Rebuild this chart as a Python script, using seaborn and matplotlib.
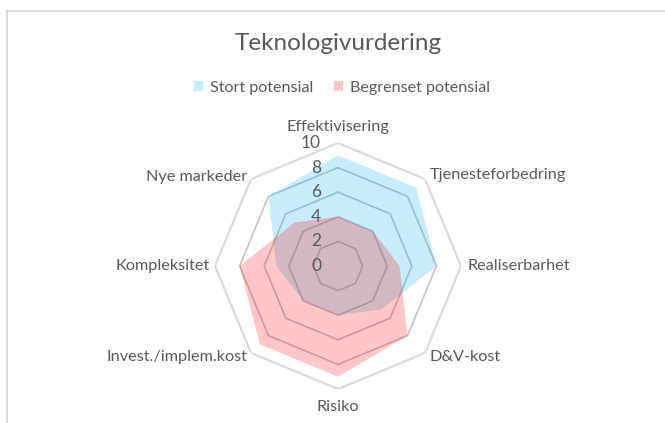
import numpy as np
import matplotlib
matplotlib.use("Agg")
import matplotlib.pyplot as plt
from matplotlib.lines import Line2D
import seaborn as sns

# data
categories = ["Effektivisering", "Tjenesteforbedring", "Realiserbarhet", "D&V-kost",
              "Risiko", "Invest./implem.kost", "Kompleksitet", "Nye markeder"]
stort = [9, 9, 8, 5, 4, 4, 5, 8]
begrenset = [4, 4, 5, 8, 9, 9, 8, 5]
r_ticks = [0, 2, 4, 6, 8, 10]

sns.set_theme(style="white")
plt.rcParams["font.family"] = ["Lato", "DejaVu Sans"]
txt = "#595959"

fig = plt.figure(figsize=(6.65, 4.23), dpi=100)
W, H = 665, 423
cx, cy, R = 338, 266, 123
ax = fig.add_axes([(cx - R) / W, (H - cy - R) / H, 2 * R / W, 2 * R / H], projection="polar")
ax.set_theta_zero_location("N")
ax.set_theta_direction(-1)
ax.set_ylim(0, 10)
ax.grid(False)
ax.set_xticks([])
ax.set_yticks([])
ax.spines["polar"].set_visible(False)
ax.patch.set_alpha(0)

n = len(categories)
theta = np.linspace(0, 2 * np.pi, n, endpoint=False)
theta_c = np.append(theta, theta[0])

# octagon gridlines
for t in r_ticks[1:]:
    outer = t == r_ticks[-1]
    ax.plot(theta_c, [t] * (n + 1), color="#dadada" if outer else "#c4c4c4",
            lw=1.6 if outer else 1.2, zorder=1)

p1 = ax.fill(theta_c, stort + stort[:1], color="#00b0f0", alpha=0.22, lw=0, zorder=2,
             label="Stort potensial")[0]
p2 = ax.fill(theta_c, begrenset + begrenset[:1], color="#ff0000", alpha=0.22, lw=0, zorder=3,
             label="Begrenset potensial")[0]

# category labels
offsets = [(0, 16, "center"), (5, 4, "left"), (6, 0, "left"), (5, -4, "left"),
           (0, -18, "center"), (-4, -4, "right"), (-5, 0, "right"), (-4, 2, "right")]
for th, lab, (dx, dy, ha) in zip(theta, categories, offsets):
    ax.annotate(lab, xy=(th, 10), xytext=(dx, dy), textcoords="offset pixels",
                ha=ha, va="center", fontsize=11.7, color=txt, annotation_clip=False)

# radial tick labels
for t in r_ticks:
    ax.annotate(str(t), xy=(0, t), xytext=(-17, 0), textcoords="offset pixels",
                ha="right", va="center", fontsize=12.5, color=txt, zorder=4)

fig.text(cx / W, 1 - 44 / H, "Teknologivurdering", ha="center", va="center",
         fontsize=17.5, color=txt)
fig.legend(handles=[p1, p2], loc="center", bbox_to_anchor=(342 / W, 1 - 88 / H), ncol=2,
           frameon=False, fontsize=11.6, handlelength=0.55, handleheight=0.55,
           handletextpad=0.45, columnspacing=1.3, labelcolor=txt)

# chart frame (left and top edges visible)
fig.add_artist(Line2D([7 / W, 7 / W], [0, 1 - 10.7 / H], color="#d9d9d9", lw=1.5))
fig.add_artist(Line2D([7 / W, 1], [1 - 10.7 / H, 1 - 10.7 / H], color="#d9d9d9", lw=1.5))

fig.savefig("out.png", dpi=100)
